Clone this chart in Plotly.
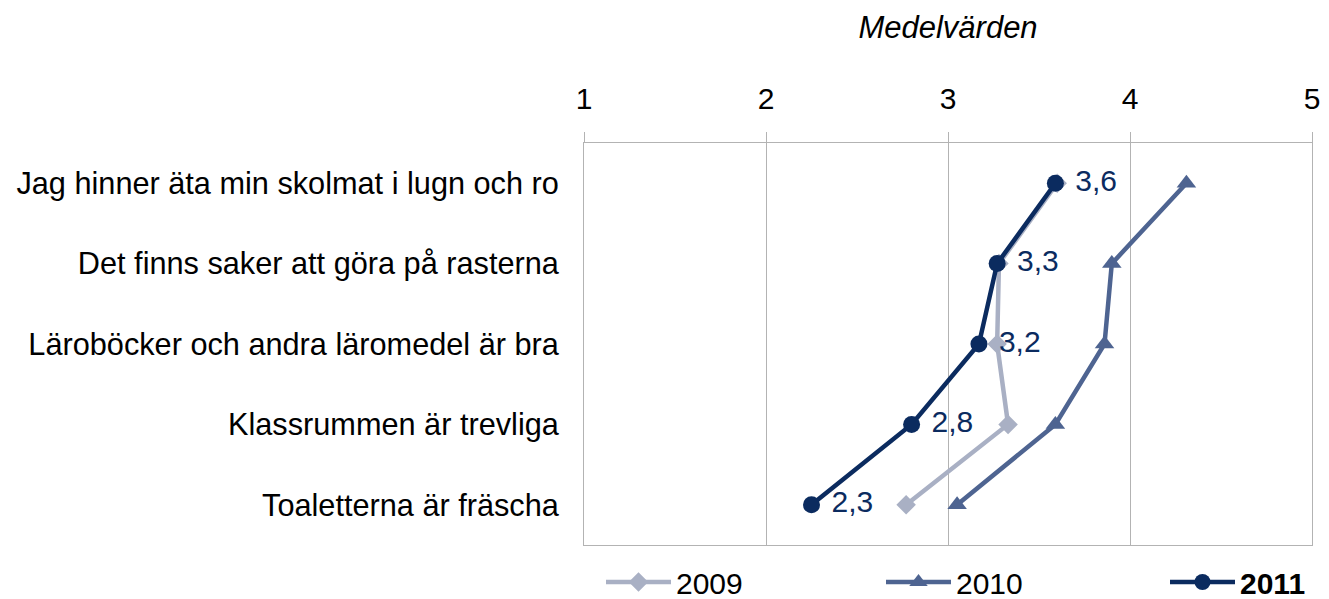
import plotly.graph_objects as go

# data
categories = [
    "Jag hinner äta min skolmat i lugn och ro",
    "Det finns saker att göra på rasterna",
    "Läroböcker och andra läromedel är bra",
    "Klassrummen är trevliga",
    "Toaletterna är fräscha",
]
v2009 = [3.60, 3.28, 3.27, 3.33, 2.77]
v2010 = [4.31, 3.90, 3.86, 3.59, 3.05]
v2011 = [3.59, 3.27, 3.17, 2.80, 2.25]
labels2011 = ["3,6", "3,3", "3,2", "2,8", "2,3"]

c2009 = "#A9B0C4"
c2010 = "#4E6491"
c2011 = "#0B2B5F"
grid = "#B3B3B3"
fnt = "Liberation Sans, Arial, sans-serif"

fig = go.Figure()

fig.add_trace(go.Scatter(
    x=v2009, y=categories, name="2009", mode="lines+markers", legend="legend",
    line=dict(color=c2009, width=4.5),
    marker=dict(symbol="diamond", size=15, color=c2009),
))
fig.add_trace(go.Scatter(
    x=v2010, y=categories, name="2010", mode="lines+markers", legend="legend2",
    line=dict(color=c2010, width=4.5),
    marker=dict(symbol="triangle-up", size=17, color=c2010),
))
fig.add_trace(go.Scatter(
    x=v2011, y=categories, name="<b>2011</b>", mode="lines+markers+text", legend="legend3",
    line=dict(color=c2011, width=4.5),
    marker=dict(symbol="circle", size=17, color=c2011),
    text=labels2011, texttemplate="\u00a0%{text}", textposition="middle right",
    textfont=dict(size=30, color=c2011, family=fnt),
))

# one legend per series so the entries sit where the reference has them
leg = dict(orientation="h", xref="container", yref="container", xanchor="left",
           y=1 - 582 / 599, yanchor="middle", itemwidth=65, font=dict(size=30))

fig.update_layout(
    width=1329, height=599,
    margin=dict(l=584, r=17, t=143, b=54),
    plot_bgcolor="white", paper_bgcolor="white",
    font=dict(family=fnt, size=30, color="black"),
    title=dict(text="<i>Medelvärden</i>", x=(584 + 1312) / 2 / 1329, xanchor="center",
               y=1 - 27 / 599, yanchor="middle", font=dict(size=31)),
    showlegend=True,
    legend=dict(leg, x=601 / 1329),
    legend2=dict(leg, x=881 / 1329),
    legend3=dict(leg, x=1165 / 1329),
)
fig.update_xaxes(
    side="top", range=[1, 5], dtick=1, tickformat="d", automargin=False,
    showgrid=True, gridcolor=grid, gridwidth=1,
    showline=True, linecolor=grid, linewidth=1, mirror=True,
    ticks="outside", ticklen=10, tickcolor=grid, ticklabelstandoff=11,
    tickfont=dict(size=30), zeroline=False,
)
fig.update_yaxes(
    categoryorder="array", categoryarray=categories, automargin=False,
    range=[4.5, -0.5], showgrid=False,
    showline=True, linecolor=grid, linewidth=1, mirror=True,
    ticks="", ticklabelstandoff=18, tickfont=dict(size=30.7),
)

fig.write_html("out.html", config={"displayModeBar": False},
               post_script="document.body.style.margin='0';")
